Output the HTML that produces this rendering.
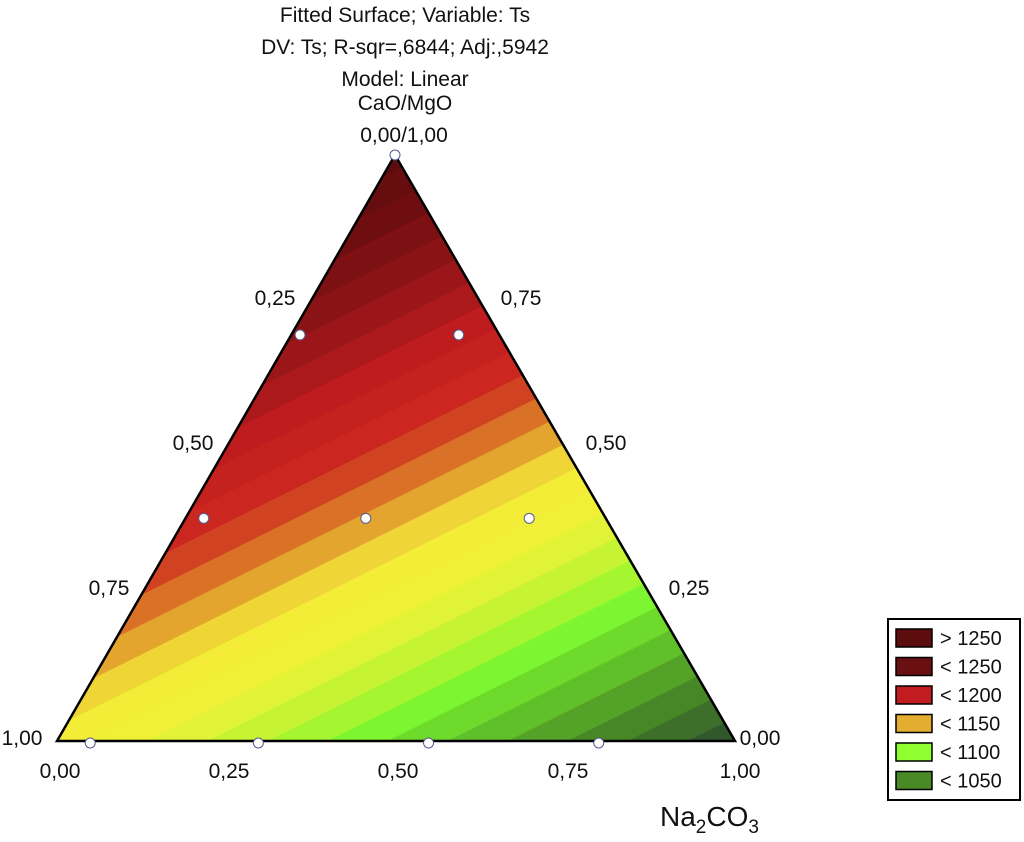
<!DOCTYPE html>
<html><head><meta charset="utf-8"><style>
body{margin:0;background:#fff;}
svg{display:block;font-family:"Liberation Sans",Arial,sans-serif;}
</style></head><body>
<svg id="chart" width="1024" height="842" viewBox="0 0 1024 842">
<g id="bands"></g>
<polygon id="tri" fill="none" stroke="#000" stroke-width="2.5"/>
<g id="pts"></g>
<g font-size="21" fill="#111" text-anchor="middle">
<text x="405" y="22">Fitted Surface; Variable: Ts</text>
<text x="405" y="54">DV: Ts; R-sqr=,6844; Adj:,5942</text>
<text x="405" y="86">Model: Linear</text>
<text x="405" y="110">CaO/MgO</text>
<text x="404" y="142">0,00/1,00</text>
<text x="275" y="305">0,25</text>
<text x="193" y="450">0,50</text>
<text x="109" y="595">0,75</text>
<text x="22" y="745">1,00</text>
<text x="521" y="305">0,75</text>
<text x="606" y="450">0,50</text>
<text x="689" y="595">0,25</text>
<text x="760" y="745">0,00</text>
<text x="60" y="778">0,00</text>
<text x="229" y="778">0,25</text>
<text x="398" y="778">0,50</text>
<text x="568" y="778">0,75</text>
<text x="740" y="778">1,00</text>
</g>
<text x="660" y="826" font-size="28" fill="#111">Na<tspan font-size="19" dy="7">2</tspan><tspan dy="-7">CO</tspan><tspan font-size="19" dy="7">3</tspan></text>
<g id="legend">
<rect x="888" y="619" width="132" height="181" fill="#fff" stroke="#000" stroke-width="2"/>
</g>
</svg>
<script>
const vertexLabels = ["CaO/MgO=1 (left)", "Na2CO3=1 (right)", "top"];
const vertexValues = [1135, 1022, 1275];
const levelMin = 1010, levelMax = 1290, levelStep = 10;
const pointNa = [0, 0.049, 0.297, 0.548, 0.799, 0.013, 0.247, 0.027, 0.266, 0.507];
const pointCa = [1, 0, 0, 0, 0, 0.693, 0.693, 0.38, 0.38, 0.38];
const legendLabels = ["> 1250","< 1250","< 1200","< 1150","< 1100","< 1050"];
const legendColors = ["#5e0d0f","#6a0f12","#c21c20","#e3ad30","#90ff30","#4a8a26"];

const L=[57,741], R=[735,741], T=[395,155];
const NS="http://www.w3.org/2000/svg";
function pos(na,ca){const l=1-na-ca;return [l*L[0]+na*R[0]+ca*T[0], l*L[1]+na*R[1]+ca*T[1]];}
document.getElementById('tri').setAttribute('points',[L,R,T].map(p=>p.join(',')).join(' '));
const stops=[[1022,[45,80,45]],[1045,[72,135,38]],[1068,[100,200,42]],[1085,[125,245,48]],[1100,[185,245,50]],[1120,[238,242,55]],[1140,[245,235,55]],[1150,[232,190,50]],[1160,[222,140,42]],[1170,[212,85,35]],[1182,[205,40,32]],[1205,[190,28,30]],[1230,[145,20,24]],[1255,[110,14,16]],[1280,[88,12,13]]];
function col(v){if(v<=stops[0][0])return stops[0][1];for(let i=1;i<stops.length;i++){if(v<=stops[i][0]){const a=stops[i-1],b=stops[i],t=(v-a[0])/(b[0]-a[0]);return a[1].map((c,k)=>Math.round(c+(b[1][k]-c)*t));}}return stops[stops.length-1][1];}
function val(p){
  const d=(R[1]-T[1])*(L[0]-T[0])+(T[0]-R[0])*(L[1]-T[1]);
  const a=((R[1]-T[1])*(p[0]-T[0])+(T[0]-R[0])*(p[1]-T[1]))/d;
  const b=((T[1]-L[1])*(p[0]-T[0])+(L[0]-T[0])*(p[1]-T[1]))/d;
  const c=1-a-b; return a*vertexValues[0]+b*vertexValues[1]+c*vertexValues[2];}
function clip(poly,f){const out=[];for(let i=0;i<poly.length;i++){const p=poly[i],q=poly[(i+1)%poly.length];const fp=f(p),fq=f(q);if(fp>=0)out.push(p);if((fp>=0)!=(fq>=0)){const t=fp/(fp-fq);out.push([p[0]+(q[0]-p[0])*t,p[1]+(q[1]-p[1])*t]);}}return out;}
const bands=document.getElementById('bands');
for(let lo=levelMin;lo<levelMax;lo+=levelStep){
  const hi=lo+levelStep;
  let poly=clip([L,R,T],p=>val(p)-lo); poly=clip(poly,p=>hi-val(p));
  if(poly.length<3)continue;
  const c=col(lo+levelStep/2);
  const el=document.createElementNS(NS,'polygon');
  
  
  el.setAttribute('points',poly.map(p=>p[0].toFixed(1)+','+p[1].toFixed(1)).join(' '));
  el.setAttribute('fill','rgb('+c.join(',')+')');el.setAttribute('stroke','rgb('+c.join(',')+')');el.setAttribute('stroke-width','0.6');
  bands.appendChild(el);}
const pts=document.getElementById('pts');
for(let i=0;i<pointNa.length;i++){const p=pos(pointNa[i],pointCa[i]);
  const el=document.createElementNS(NS,'circle');
  
  
  el.setAttribute('cx',p[0]);el.setAttribute('cy',p[1]+(pointCa[i]===0?2:0));el.setAttribute('r',5);
  el.setAttribute('fill','#fff');el.setAttribute('stroke','#555a90');el.setAttribute('stroke-width','1');pts.appendChild(el);}
const lg=document.getElementById('legend');
legendLabels.forEach((t,i)=>{const y=629+i*28.5;
  const r=document.createElementNS(NS,'rect');
  
  
  r.setAttribute('x',896);r.setAttribute('y',y);r.setAttribute('width',36);r.setAttribute('height',18);
  r.setAttribute('fill',legendColors[i]);r.setAttribute('stroke','#000');r.setAttribute('stroke-width','1.5');lg.appendChild(r);
  const tx=document.createElementNS(NS,'text');
  
  
  tx.setAttribute('x',940);tx.setAttribute('y',y+16);tx.setAttribute('font-size','20');tx.setAttribute('fill','#111');
  tx.textContent=t;lg.appendChild(tx);});
</script>
</body></html>
